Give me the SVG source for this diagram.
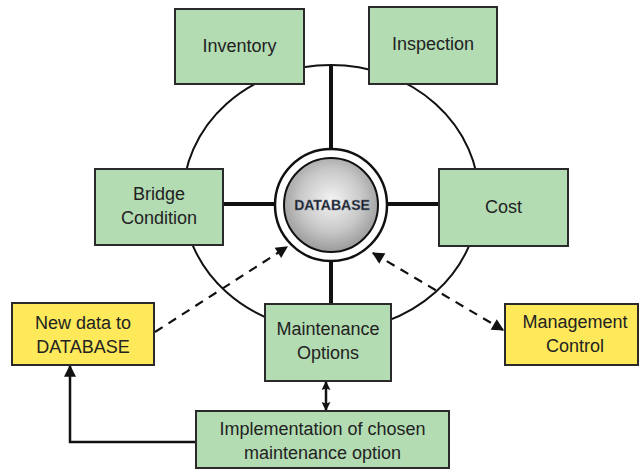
<svg xmlns="http://www.w3.org/2000/svg" width="639" height="471" viewBox="0 0 639 471">
  <defs>
    <radialGradient id="dbFill" cx="50%" cy="45%" r="55%">
      <stop offset="0" stop-color="#f4f4f4"/>
      <stop offset="0.6" stop-color="#c8c8c8"/>
      <stop offset="1" stop-color="#9a9a9a"/>
    </radialGradient>
    <marker id="headBig" viewBox="0 0 10 10" refX="9" refY="5" markerWidth="14" markerHeight="12" markerUnits="userSpaceOnUse" orient="auto-start-reverse">
      <path d="M0,0 L10,5 L0,10 Z" fill="#111"/>
    </marker>
    <marker id="headSmall" viewBox="0 0 10 10" refX="9" refY="5" markerWidth="9" markerHeight="9" markerUnits="userSpaceOnUse" orient="auto-start-reverse">
      <path d="M0,0 L10,5 L0,10 L2,5 Z" fill="#111"/>
    </marker>
  </defs>
  <style>
    .box { fill: #b3dcb3; stroke: #2a2a2a; stroke-width: 2; }
    .note { fill: #fde95a; stroke: #2a2a2a; stroke-width: 2; }
    .label { font-family: "Liberation Sans", Arial, sans-serif; font-size: 18px; fill: #222; text-anchor: middle; }
    .spoke { stroke: #111; stroke-width: 4; fill: none; }
    .ring { stroke: #111; stroke-width: 2; fill: none; }
    .dash { stroke: #111; stroke-width: 2.2; fill: none; stroke-dasharray: 9 7; }
    .solid { stroke: #111; stroke-width: 2.5; fill: none; }
  </style>
  <rect width="639" height="471" fill="#ffffff"/>

  <g id="connectors">
    <!-- outer cycle linking the surrounding modules -->
    <ellipse class="ring" cx="331" cy="198" rx="148" ry="133"/>
    <!-- spokes from the database -->
    <line class="spoke" x1="331" y1="65" x2="331" y2="150"/>
    <line class="spoke" x1="223" y1="204" x2="276" y2="204"/>
    <line class="spoke" x1="386" y1="204" x2="439" y2="204"/>
    <line class="spoke" x1="331" y1="260" x2="331" y2="304"/>
    <!-- dashed data flows -->
    <line class="dash" x1="155" y1="332" x2="287" y2="247" marker-end="url(#headBig)"/>
    <line class="dash" x1="373" y1="253" x2="503" y2="330" marker-start="url(#headBig)" marker-end="url(#headBig)"/>
    <!-- maintenance options <-> implementation -->
    <line class="solid" x1="326" y1="382" x2="326" y2="410" stroke-width="3" marker-start="url(#headSmall)" marker-end="url(#headSmall)"/>
    <!-- implementation feeds new data -->
    <polyline class="solid" points="196,442 70,442 70,366" marker-end="url(#headBig)"/>
  </g>

  <g id="database">
    <circle cx="331" cy="205" r="56" fill="#ffffff" stroke="#111" stroke-width="2.5"/>
    <circle cx="331" cy="205" r="47" fill="url(#dbFill)" stroke="#111" stroke-width="2"/>
    <text x="332" y="210" font-family="Liberation Sans, Arial, sans-serif" font-size="14" font-weight="bold" fill="#1a1d28" text-anchor="middle" stroke="#6f7d95" stroke-width="0.4">DATABASE</text>
  </g>

  <g id="inventory">
    <rect class="box" x="175" y="9" width="129" height="75"/>
    <text class="label" x="239.5" y="52">Inventory</text>
  </g>

  <g id="inspection">
    <rect class="box" x="369" y="7" width="128" height="77"/>
    <text class="label" x="433" y="50">Inspection</text>
  </g>

  <g id="bridge-condition">
    <rect class="box" x="95" y="169" width="128" height="76"/>
    <text class="label" x="159" y="200">Bridge</text>
    <text class="label" x="159" y="224">Condition</text>
  </g>

  <g id="cost">
    <rect class="box" x="439" y="169" width="129" height="77"/>
    <text class="label" x="503.5" y="213">Cost</text>
  </g>

  <g id="maintenance-options">
    <rect class="box" x="265" y="304" width="126" height="77"/>
    <text class="label" x="328" y="335">Maintenance</text>
    <text class="label" x="328" y="359">Options</text>
  </g>

  <g id="implementation">
    <rect class="box" x="196" y="411" width="253" height="57"/>
    <text class="label" x="322.5" y="435">Implementation of chosen</text>
    <text class="label" x="322.5" y="459">maintenance option</text>
  </g>

  <g id="new-data">
    <rect class="note" x="12" y="303" width="142" height="62"/>
    <text class="label" x="83" y="329">New data to</text>
    <text class="label" x="83" y="353">DATABASE</text>
  </g>

  <g id="management-control">
    <rect class="note" x="505" y="304" width="133" height="61"/>
    <text class="label" x="575" y="328">Management</text>
    <text class="label" x="575" y="352">Control</text>
  </g>
</svg>
